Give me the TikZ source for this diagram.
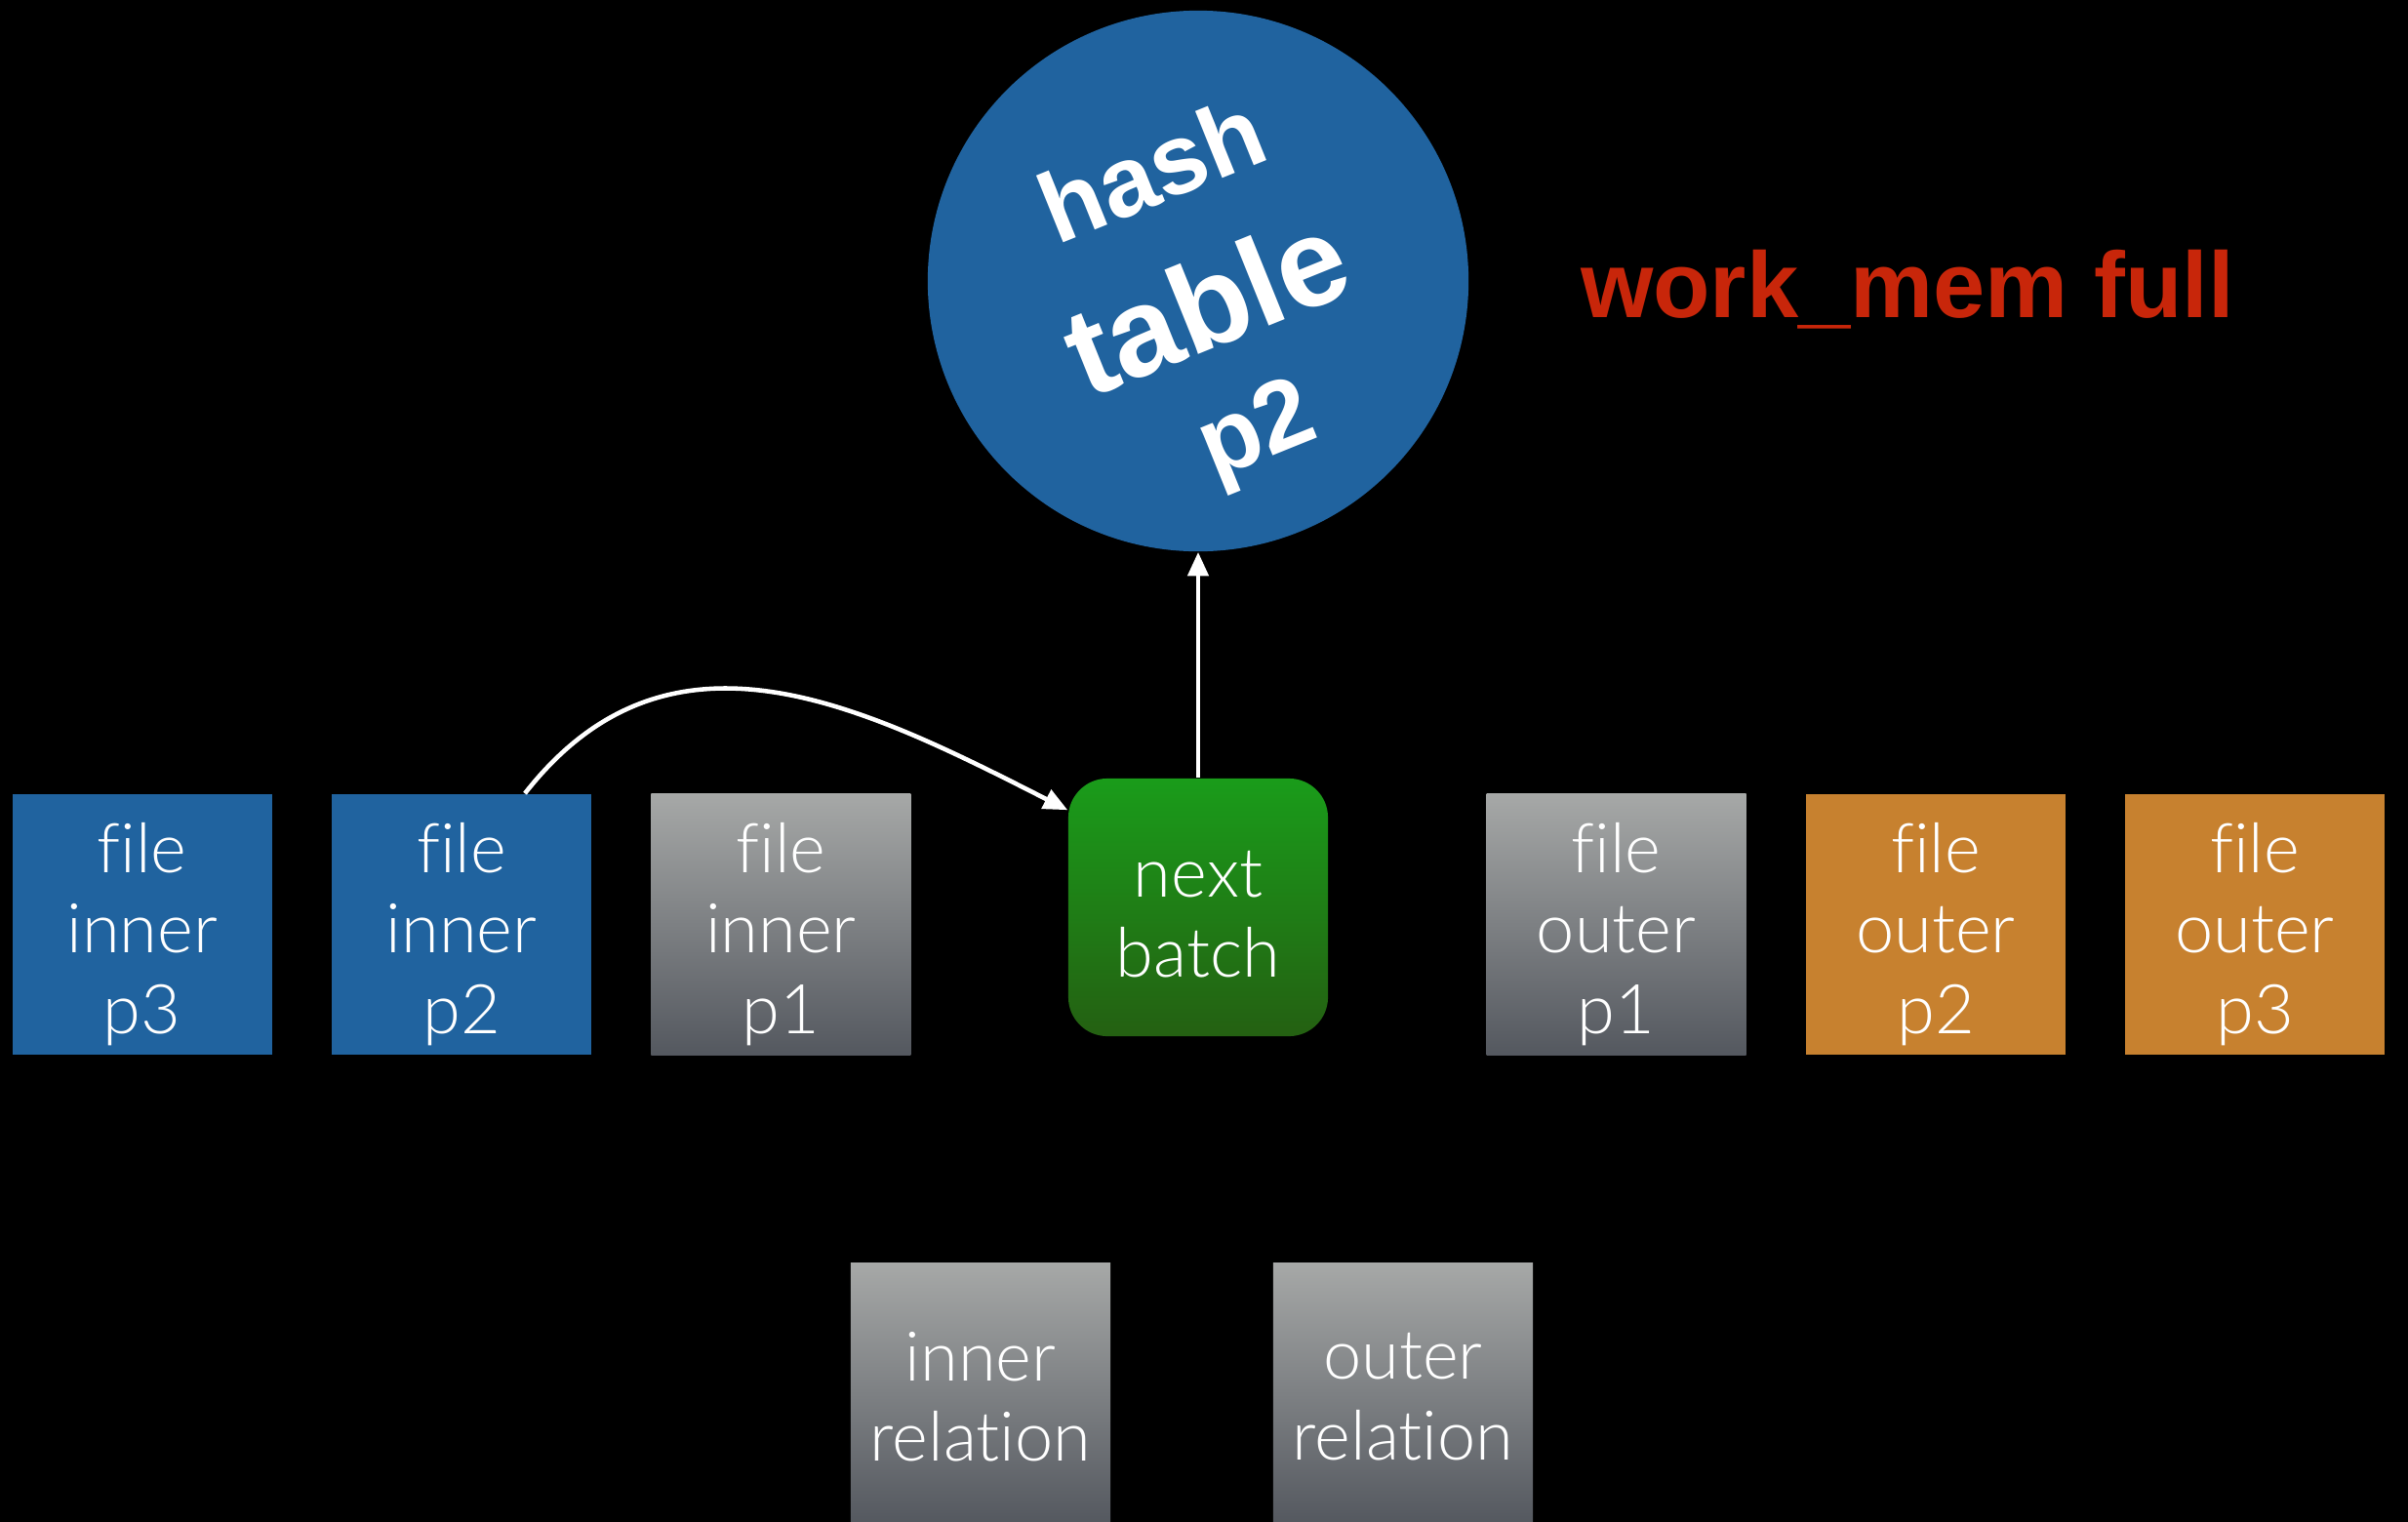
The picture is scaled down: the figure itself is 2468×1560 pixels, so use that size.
\documentclass[tikz,border=0pt]{standalone}
\usepackage{fontspec}
\setmainfont{Liberation Sans}
\newfontfamily\thinfont{Lato}[UprightFont={* Light}, Ligatures=NoCommon]
\usetikzlibrary{arrows.meta,calc}

\definecolor{tileblue}{RGB}{32,99,159}
\definecolor{tileorange}{RGB}{199,129,47}
\definecolor{greytop}{RGB}{166,168,167}
\definecolor{greybot}{RGB}{84,88,95}
\definecolor{greentop}{RGB}{26,156,26}
\definecolor{greenbot}{RGB}{36,96,18}
\definecolor{alertred}{RGB}{200,38,10}

\begin{document}
\begin{tikzpicture}[x=0.01cm,y=-0.01cm,
  tile/.style={rectangle, minimum width=2.66cm, minimum height=2.67cm, inner sep=0pt, draw=none},
  bluetile/.style={tile, fill=tileblue},
  orangetile/.style={tile, fill=tileorange},
  greytile/.style={tile, top color=greytop, bottom color=greybot},
  batchtile/.style={rectangle, rounded corners=0.4cm, minimum width=2.66cm, minimum height=2.64cm,
    inner sep=0pt, top color=greentop, bottom color=greenbot},
  tiletext/.style={text=white, align=center, inner sep=0pt, font=\thinfont\fontsize{20pt}{23.5pt}\selectfont},
  hashtext/.style={text=white, inner sep=0pt, rotate=22, font=\bfseries\fontsize{#1}{#1}\selectfont},
  conn/.style={draw=white, line width=1.3pt, -{Triangle[length=7pt,width=6pt]}}
]
% black backdrop
\fill[black] (0,0) rectangle (2468,1560);
\useasboundingbox (0,0) rectangle (2468,1560);
\clip (0,0) rectangle (2468,1560);

% hash table
\node[circle, fill=tileblue, minimum size=5.54cm, inner sep=0pt] (ht) at (1228,288) {};
\node[hashtext=29pt] (hhash) at (1180,173) {hash};
\node[hashtext=36.5pt] (htable) at (1236,311) {table};
\node[hashtext=29pt] (hp2) at (1290,446) {p2};

% status text
\node[text=alertred, anchor=base, inner sep=0pt, font=\bfseries\fontsize{27.2pt}{30pt}\selectfont]
  (full) at (1955,325) {work\_mem full};

% batch files
\node[bluetile] (ip3) at (145.6,947.5) {};
\node[bluetile] (ip2) at (473,947.5) {};
\node[greytile] (ip1) at (800.4,947.5) {};
\node[batchtile] (nb) at (1228,930) {};
\node[greytile] (op1) at (1656.6,947.5) {};
\node[orangetile] (op2) at (1984,947.5) {};
\node[orangetile] (op3) at (2311,947.5) {};

\node[tiletext] (ip3t) at ($(ip3)+(0,10)$) {file\\inner\\p3};
\node[tiletext] (ip2t) at ($(ip2)+(0,10)$) {file\\inner\\p2};
\node[tiletext] (ip1t) at ($(ip1)+(0,10)$) {file\\inner\\p1};
\node[tiletext] (nbt) at ($(nb)+(0,7)$) {next\\batch};
\node[tiletext] (op1t) at ($(op1)+(0,10)$) {file\\outer\\p1};
\node[tiletext] (op2t) at ($(op2)+(0,10)$) {file\\outer\\p2};
\node[tiletext] (op3t) at ($(op3)+(0,10)$) {file\\outer\\p3};

% base relations
\node[greytile] (ir) at (1005,1428.5) {};
\node[greytile] (or) at (1438,1428.5) {};
\node[tiletext] (irt) at ($(ir)+(0,3)$) {inner\\relation};
\node[tiletext] (ort) at ($(or)+(0,3)$) {outer\\relation};

% connectors
\coordinate (from) at ($(ip2.north)+(65,0)$);
\coordinate (into) at ($(nb.north west)+(0,33)$);
\draw[conn] (from) to[out=52, in=153, looseness=1.1] (into);
\draw[conn] (nb.north) -- (ht.south);
\end{tikzpicture}
\end{document}
